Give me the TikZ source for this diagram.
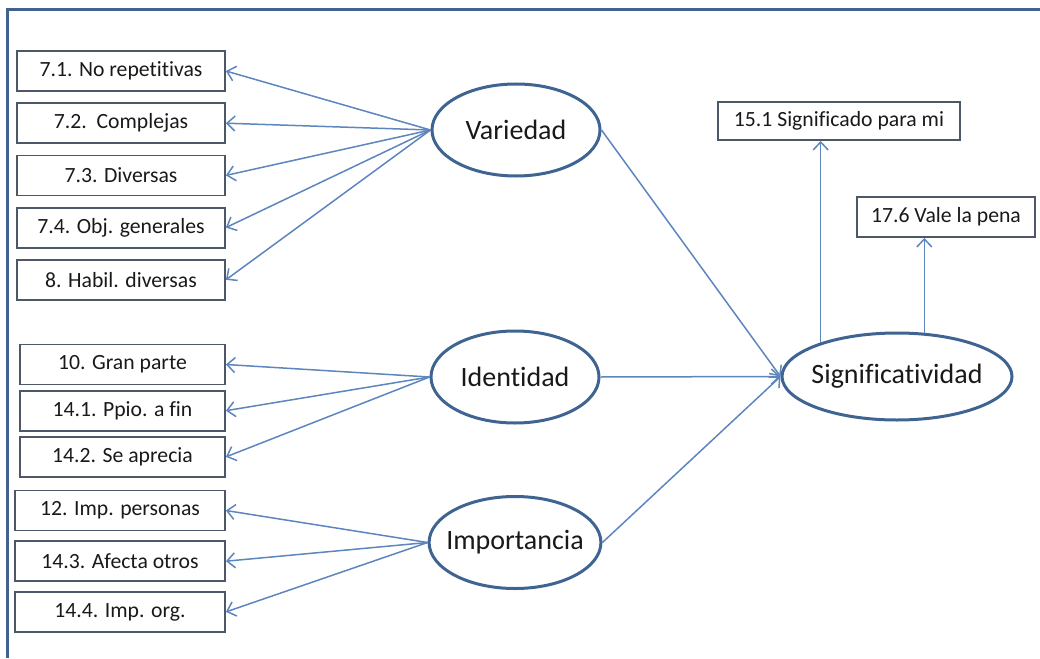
\documentclass[tikz,border=0pt]{standalone}
\usepackage{fontspec}
\setmainfont{Carlito}[Ligatures={NoCommon}]
\usetikzlibrary{arrows.meta,positioning,shapes.geometric}

\definecolor{framec}{HTML}{41628F}
\definecolor{ellc}{HTML}{3F6492}
\definecolor{arrc}{HTML}{5D85BE}
\definecolor{boxc}{HTML}{4C5868}

\begin{document}
\begin{tikzpicture}[
  x=1pt, y=-1pt,
  item/.style={draw=boxc, line width=1.8pt, minimum height=40pt, inner sep=0pt, align=center, text=black!90, font=\fontsize{21.7}{26}\selectfont},
  factor/.style={ellipse, draw=ellc, line width=3pt, minimum width=168pt, minimum height=92pt, inner xsep=-8pt, inner ysep=0pt, text=black!90, font=\fontsize{28}{32}\selectfont},
  arr/.style={-{Straight Barb[length=8pt,width=15pt]}, draw=arrc, line width=1.5pt}
]
\useasboundingbox (0,0) rectangle (1040,658);
\draw[framec, line width=3pt] (7,658) -- (7,10) -- (1040,10);

% Variedad
\node[factor] (var) at (516,130) {Variedad};
\node[item, minimum width=208pt] (v1) at (121,71) {7.1. No repetitivas};
\node[item, minimum width=208pt, below=10.4pt of v1] (v2) {7.2.\ \ Complejas};
\node[item, minimum width=208pt, below=10.4pt of v2] (v3) {7.3. Diversas};
\node[item, minimum width=208pt, below=10.4pt of v3] (v4) {7.4. Obj. generales};
\node[item, minimum width=208pt, below=10.4pt of v4] (v5) {8. Habil. diversas};

% Identidad
\node[factor] (ide) at (515,377) {Identidad};
\node[item, minimum width=205pt] (i1) at (122.5,364.5) {10. Gran parte};
\node[item, minimum width=205pt, below=4.4pt of i1] (i2) {14.1. Ppio. a fin};
\node[item, minimum width=205pt, below=4.4pt of i2] (i3) {14.2. Se aprecia};

% Importancia
\node[factor] (imp) at (515,542.5) {Importancia};
\node[item, minimum width=210pt] (m1) at (120,510.5) {12. Imp. personas};
\node[item, minimum width=210pt, below=8.9pt of m1] (m2) {14.3. Afecta otros};
\node[item, minimum width=210pt, below=8.9pt of m2] (m3) {14.4. Imp. org.};

% Significatividad
\node[factor, minimum width=230pt, minimum height=87pt] (sig) at (897,376.5) {Significatividad};
\node[item, minimum width=242pt, minimum height=38pt] (s15) at (839,121) {15.1 Significado para mi};
\node[item, minimum width=178pt] (s17) at (946,217) {17.6 Vale la pena};

\foreach \i in {1,...,5} \draw[arr] (var.west) -- (v\i.east);
\foreach \i in {1,2,3} \draw[arr] (ide.west) -- (i\i.east);
\foreach \i in {1,2,3} \draw[arr] (imp.west) -- (m\i.east);

\draw[arr] (var.east) -- (sig.west);
\draw[arr] (ide.east) -- (sig.west);
\draw[arr] (imp.east) -- (sig.west);
\draw[arr] (sig.156) -- (sig.156 |- s15.south);
\draw[arr] (sig.58) -- (sig.58 |- s17.south);
\end{tikzpicture}
\end{document}
